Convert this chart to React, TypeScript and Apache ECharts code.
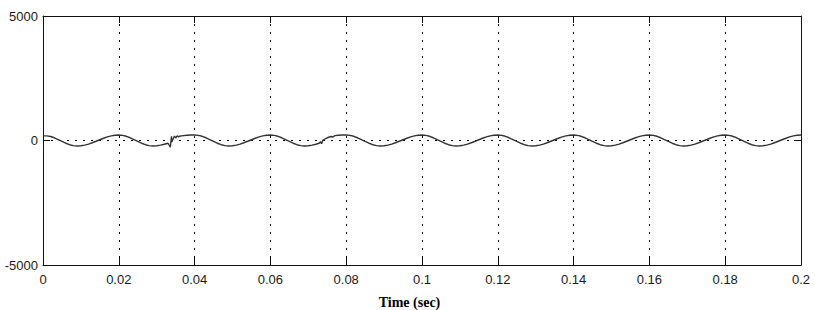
import React, { useEffect, useRef } from "react";
import * as echarts from "echarts";

// Time axis
const timeMin = 0;
const timeMax = 0.2;
const timeStep = 0.02;
const sampleStep = 0.001; // spacing of the regular samples below

// Y axis
const yMin = -5000;
const yMax = 5000;
const yStep = 5000;

// Signal, one sample per ms (0 .. 0.2 s)
const signal: number[] = [
  // 0.000 - 0.019
  185, 185, 160, 110, 38, -38, -110, -169, -207, -220, -211, -185, -144, -91, -31, 31, 91, 144, 185, 211,
  // 0.020 - 0.039 (disturbance near 0.034)
  220, 207, 169, 110, 38, -38, -110, -169, -207, -220, -211, -185, -150, -110, -60, 100, 170, 195, 210, 218,
  // 0.040 - 0.059
  220, 207, 169, 110, 38, -38, -110, -169, -207, -220, -211, -185, -144, -91, -31, 31, 91, 144, 185, 211,
  // 0.060 - 0.079 (disturbance near 0.073)
  220, 207, 169, 110, 38, -38, -110, -169, -207, -220, -211, -185, -150, -100, 30, 110, 160, 195, 212, 220,
  // 0.080 - 0.099
  220, 207, 169, 110, 38, -38, -110, -169, -207, -220, -211, -185, -144, -91, -31, 31, 91, 144, 185, 211,
  // 0.100 - 0.119
  220, 207, 169, 110, 38, -38, -110, -169, -207, -220, -211, -185, -144, -91, -31, 31, 91, 144, 185, 211,
  // 0.120 - 0.139
  220, 207, 169, 110, 38, -38, -110, -169, -207, -220, -211, -185, -144, -91, -31, 31, 91, 144, 185, 211,
  // 0.140 - 0.159
  220, 207, 169, 110, 38, -38, -110, -169, -207, -220, -211, -185, -144, -91, -31, 31, 91, 144, 185, 211,
  // 0.160 - 0.179
  220, 207, 169, 110, 38, -38, -110, -169, -207, -220, -211, -185, -144, -91, -31, 31, 91, 144, 185, 211,
  // 0.180 - 0.199
  220, 207, 169, 110, 38, -38, -110, -169, -207, -220, -211, -185, -144, -91, -31, 31, 91, 144, 185, 211,
  // 0.200
  220,
];

// Extra fine samples of the two short disturbances [time, value]
const disturbancePoints: [number, number][] = [
  [0.0336, -270],
  [0.0339, 170],
  [0.0343, 50],
  [0.0347, 180],
  [0.0354, 190],
  [0.0357, 150],
  [0.0732, -40],
  [0.0735, -130],
  [0.0738, -10],
  [0.0765, 140],
];

const xTickLabel = (v: number) => (v === 0 ? "0" : String(+v.toFixed(2)));

export default function App() {
  const ref = useRef<HTMLDivElement>(null);

  useEffect(() => {
    if (!ref.current) return;
    const chart = echarts.init(ref.current, undefined, { renderer: "svg" });

    const points: [number, number][] = signal.map((v, i) => [
      +(i * sampleStep).toFixed(4),
      v,
    ]);
    const data = points.concat(disturbancePoints).sort((a, b) => a[0] - b[0]);

    const labelFont = {
      fontFamily: '"Liberation Sans Narrow", "Liberation Sans", Arial, sans-serif',
      fontSize: 13,
      color: "#1a1a1a",
    };
    const axisLineStyle = { color: "#111", width: 1 };
    const dotted = { color: "#000", width: 1, type: [2, 6] as any };

    chart.setOption({
      animation: false,
      backgroundColor: "#fff",
      grid: { left: 43, right: 14, top: 16, bottom: 45, containLabel: false },
      xAxis: [
        {
          type: "value",
          min: timeMin,
          max: timeMax,
          interval: timeStep,
          position: "bottom",
          axisLine: { show: true, onZero: false, lineStyle: axisLineStyle },
          axisTick: { show: true, inside: true, length: 7, lineStyle: axisLineStyle },
          axisLabel: { ...labelFont, margin: 8, formatter: xTickLabel },
          splitLine: { show: true, lineStyle: dotted },
        },
        {
          type: "value",
          min: timeMin,
          max: timeMax,
          interval: timeStep,
          position: "top",
          axisLine: { show: true, onZero: false, lineStyle: axisLineStyle },
          axisTick: { show: true, inside: true, length: 7, lineStyle: axisLineStyle },
          axisLabel: { show: false },
          splitLine: { show: false },
        },
      ],
      yAxis: [
        {
          type: "value",
          min: yMin,
          max: yMax,
          interval: yStep,
          position: "left",
          axisLine: { show: true, onZero: false, lineStyle: axisLineStyle },
          axisTick: { show: true, inside: true, length: 7, lineStyle: axisLineStyle },
          axisLabel: { ...labelFont, margin: 5, formatter: (v: number) => String(v) },
          splitLine: { show: true, lineStyle: dotted },
        },
        {
          type: "value",
          min: yMin,
          max: yMax,
          interval: yStep,
          position: "right",
          axisLine: { show: true, onZero: false, lineStyle: axisLineStyle },
          axisTick: { show: true, inside: true, length: 7, lineStyle: axisLineStyle },
          axisLabel: { show: false },
          splitLine: { show: false },
        },
      ],
      graphic: [
        {
          type: "text",
          x: 409.5,
          y: 302,
          style: {
            text: "Time (sec)",
            font: 'bold 14px "Liberation Serif", "Times New Roman", serif',
            fill: "#000",
            textAlign: "center",
            textVerticalAlign: "middle",
            align: "center",
            verticalAlign: "middle",
          } as any,
        },
      ],
      series: [
        {
          type: "line",
          xAxisIndex: 0,
          yAxisIndex: 0,
          data,
          showSymbol: false,
          symbol: "none",
          smooth: false,
          lineStyle: { color: "#333", width: 1.4 },
        },
      ],
    });

    return () => chart.dispose();
  }, []);

  return (
    <div
      ref={ref}
      style={{ position: "absolute", left: 0, top: 0, width: 815, height: 310, background: "#fff" }}
    />
  );
}
